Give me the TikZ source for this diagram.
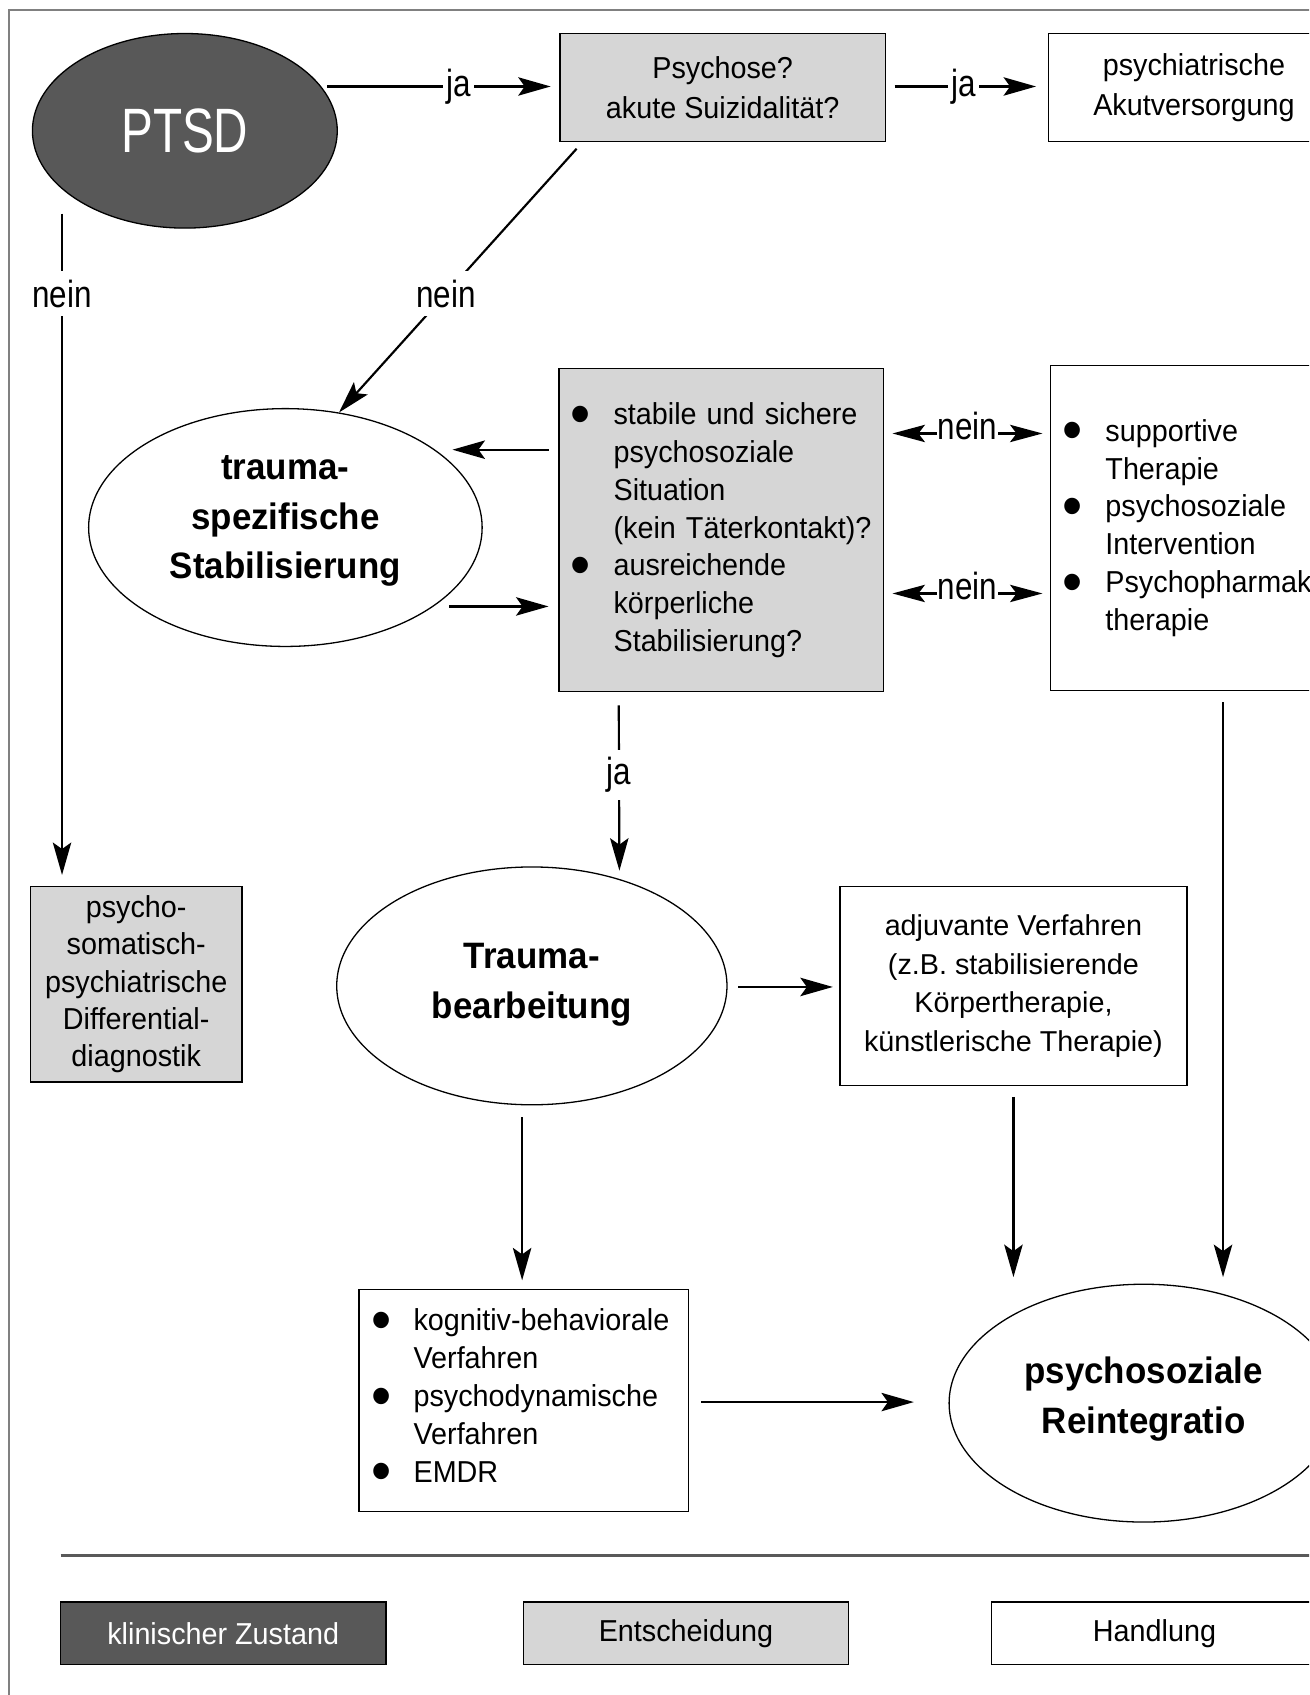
\documentclass[tikz,border=0pt]{standalone}
\usepackage{fontspec}
\setmainfont{Liberation Sans}[FakeStretch=0.95]
\newfontfamily\lblfont{Liberation Sans}[FakeStretch=0.83]
\newfontfamily\ptsdfont{Liberation Sans}[FakeStretch=0.76]
\newfontfamily\adjfont{Liberation Sans}
\usetikzlibrary{shapes.geometric,arrows.meta,calc}
\definecolor{darkfill}{RGB}{88,88,88}
\definecolor{lightfill}{RGB}{214,214,214}
\newcommand{\bigbul}{\raisebox{-4.4pt}{\scalebox{2}{\textbullet}}}
\newcommand{\bitem}[1]{\hspace*{5.6pt}\makebox[19.7pt][l]{\bigbul}#1}
\newcommand{\bcont}[1]{\hspace*{25.3pt}#1}
\tikzset{
  box/.style={draw=black, line width=0.6pt, rectangle, inner sep=0pt,
    font=\fontsize{14}{17.5}\selectfont, align=center},
  dec/.style={box, fill=lightfill},
  act/.style={box, fill=white},
  ell/.style={draw=black, ellipse, line width=0.6pt, inner sep=0pt, fill=white},
  btext/.style={font=\fontsize{17}{23}\selectfont\bfseries, align=center, inner sep=0pt},
  tip/.style={Stealth[length=15pt,width=8.5pt,inset=3pt]},
  conn/.style={line width=1pt, -{Stealth[length=15pt,width=8.5pt,inset=3pt]}},
  dconn/.style={line width=1pt, {Stealth[length=15pt,width=8pt,inset=3pt]}-{Stealth[length=15pt,width=8pt,inset=3pt]}},
  lbl/.style={fill=white, inner xsep=1.5pt, inner ysep=1.5pt,
    font=\lblfont\fontsize{17.5}{17.5}\selectfont},
}
\begin{document}
\begin{tikzpicture}[x=0.5pt, y=-0.5pt]
\useasboundingbox (0,0) rectangle (1211,1568);
\clip (0,0) rectangle (1211,1568);
\fill[white] (0,0) rectangle (1211,1568);
\draw[gray, line width=1pt] (8,9) rectangle (1400,1700);

% nodes
\node[ell, fill=darkfill, minimum width=141pt, minimum height=90pt, text=white,
  font=\ptsdfont\fontsize{29}{29}\selectfont] (ptsd) at (171,121) {PTSD};
\node[dec, minimum width=150.5pt, minimum height=50pt,
  font=\fontsize{14}{18.5}\selectfont] (psy) at (668.5,81) {Psychose?\\akute Suizidalität?};
\node[act, minimum width=134.5pt, minimum height=50pt,
  font=\fontsize{14}{18.5}\selectfont] (pak) at (1104.5,81) {psychiatrische\\Akutversorgung};

\node[ell, minimum width=182pt, minimum height=110pt] (tss) at (264,488) {};
\node[btext] (tsst) at (264,482) {trauma-\\spezifische\\Stabilisierung};

\node[dec, text width=150pt, minimum height=149.5pt, align=left] (stab) at (667,490.5)
  {\bitem{stabile und sichere}\\\bcont{psychosoziale}\\\bcont{Situation}\\\bcont{(kein Täterkontakt)?}\\\bitem{ausreichende}\\\bcont{körperliche}\\\bcont{Stabilisierung?}};

\node[act, text width=133.5pt, minimum height=150.5pt, align=left] (hr) at (1105.5,488.5)
  {\bitem{supportive}\\\bcont{Therapie}\\\bitem{psychosoziale}\\\bcont{Intervention}\\\bitem{Psychopharmako-}\\\bcont{therapie}};

\node[dec, minimum width=98pt, minimum height=90.5pt,
  font=\fontsize{14}{17.25}\selectfont] (pdd) at (126,910.5)
  {psycho-\\somatisch-\\psychiatrische\\Differential-\\diagnostik};

\node[ell, minimum width=180.5pt, minimum height=110pt] (tb) at (492,912) {};
\node[btext] (tbt) at (492,911) {Trauma-\\bearbeitung};

\node[act, minimum width=160.5pt, minimum height=92pt,
  font=\adjfont\fontsize{13.3}{17.8}\selectfont] (adj) at (937.5,912)
  {adjuvante Verfahren\\(z.B. stabilisierende\\Körpertherapie,\\künstlerische Therapie)};

\node[act, text width=152.5pt, minimum height=102.5pt, align=left] (kog) at (484.5,1295.5)
  {\bitem{kognitiv-behaviorale}\\\bcont{Verfahren}\\\bitem{psychodynamische}\\\bcont{Verfahren}\\\bitem{EMDR}};

\node[ell, minimum width=180pt, minimum height=110pt] (rei) at (1058,1298) {};
\node[btext] (reit) at (1058,1294) {psychosoziale\\Reintegratio};

% legend
\draw[line width=1.2pt, black!65] (56,1439) -- (1400,1439);
\node[box, fill=darkfill, text=white, minimum width=150.5pt, minimum height=29pt] (lz) at (206.5,1511) {klinischer Zustand};
\node[dec, minimum width=150.5pt, minimum height=29pt] (le) at (634.5,1511) {Entscheidung};
\node[act, minimum width=151pt, minimum height=29pt] (lh) at (1068,1511) {Handlung};

% connectors
\draw[conn] ($(ptsd.east |- psy.west)+(-10,-1)$) -- node[lbl, pos=0.587]{ja} ($(psy.west)+(-8,-1)$);
\draw[conn] ($(psy.east)+(8,-1)$) -- node[lbl, pos=0.49]{ja} ($(pak.west)+(-11,-1)$);
\draw[conn] ($(psy.south west)+(16,6)$) -- node[lbl, pos=0.55, inner sep=4pt]{nein} (tss.65);
\draw[conn] ($(ptsd.south -| pdd.north west)+(30,-14)$) -- node[lbl, pos=0.121, inner ysep=4pt]{nein} ($(pdd.north west)+(30,-10)$);
\draw[conn] ($(stab.west)+(-9,-74.5)$) -- ($(tss.east)+(-28,-72)$);
\draw[conn] ($(tss.east)+(-31,73)$) -- ($(stab.west)+(-9,70.5)$);
\draw[dconn] ($(stab.east)+(8,-89.5)$) -- node[lbl, anchor=mid, inner xsep=0.5pt]{nein} ($(hr.west)+(-7,-87.5)$);
\draw[dconn] ($(stab.east)+(8,58.5)$) -- node[lbl, anchor=mid, inner xsep=0.5pt]{nein} ($(hr.west)+(-7,60.5)$);
\draw[conn] ($(stab.south west)+(56,12)$) -- node[lbl, pos=0.42, inner ysep=3.5pt]{ja} ($(tb.north)+(81,4)$);
\draw[conn] ($(tb.east)+(10,1)$) -- ($(adj.west)+(-6,1)$);
\draw[conn] ($(adj.south)+(0,10)$) -- ($(adj.south |- rei.north)+(0,-6)$);
\draw[conn] ($(hr.south west)+(160,10)$) -- ($(hr.south west |- rei.north)+(160,-6)$);
\draw[conn] ($(tb.south)+(-9,11)$) -- ($(tb.south |- kog.north)+(-9,-8)$);
\draw[conn] ($(kog.east)+(11,1.5)$) -- ($(rei.west)+(-32,-1)$);
\end{tikzpicture}
\end{document}
